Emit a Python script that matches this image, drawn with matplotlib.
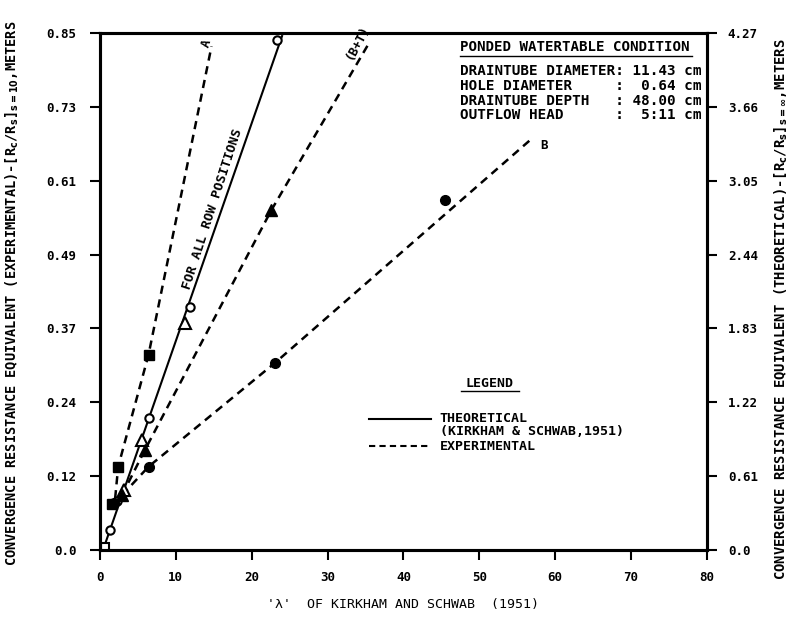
import numpy as np
import matplotlib
matplotlib.use("Agg")
import matplotlib.pyplot as plt

plt.rcParams['font.family'] = ['DejaVu Sans Mono']
plt.rcParams['font.weight'] = 'bold'
plt.rcParams['mathtext.default'] = 'bf'

# data (x = lambda, y = resistance equivalent, m)
sq_fill_x = [1.6, 2.4, 6.4]
sq_fill_y = [0.075, 0.137, 0.321]
sq_open_x = [0.66]
sq_open_y = [0.005]
circ_open_x = [1.3, 2.2, 6.4, 11.9, 23.3]
circ_open_y = [0.033, 0.08, 0.217, 0.40, 0.839]
circ_fill_x = [1.8, 6.4, 23.1, 45.5]
circ_fill_y = [0.078, 0.137, 0.308, 0.575]
tri_open_x = [3.2, 5.6, 11.2]
tri_open_y = [0.098, 0.181, 0.373]
tri_fill_x = [2.9, 5.9, 22.6]
tri_fill_y = [0.09, 0.164, 0.559]

# line vertices
line_a_x = [2.0, 2.4, 6.4, 14.7]
line_a_y = [0.085, 0.137, 0.321, 0.828]
line_bt_x = [2.9, 5.9, 22.6, 35.3]
line_bt_y = [0.09, 0.164, 0.559, 0.83]
line_b_x = [2.9, 6.4, 23.1, 56.7]
line_b_y = [0.09, 0.137, 0.308, 0.674]
theory_x = [0.4, 24.0]
theory_y = [0.0, 0.845]

left_ticks = ['0.0', '0.12', '0.24', '0.37', '0.49', '0.61', '0.73', '0.85']
right_ticks = ['0.0', '0.61', '1.22', '1.83', '2.44', '3.05', '3.66', '4.27']
x_ticks = [0, 10, 20, 30, 40, 50, 60, 70, 80]

fig = plt.figure(figsize=(7.89, 6.18), dpi=100)
ax = fig.add_axes([0.1267, 0.11, 0.7693, 0.8366])

dash = (0, (3.3, 2.3))
ax.plot(line_a_x, line_a_y, color='black', lw=1.8, linestyle=dash)
ax.plot(line_bt_x, line_bt_y, color='black', lw=1.8, linestyle=dash)
ax.plot(line_b_x, line_b_y, color='black', lw=1.8, linestyle=dash)
ax.plot(theory_x, theory_y, color='black', lw=1.5)

ax.plot(sq_fill_x, sq_fill_y, 's', color='black', ms=6.5)
ax.plot(sq_open_x, sq_open_y, 's', mfc='white', mec='black', mew=1.5, ms=6)
ax.plot(circ_open_x, circ_open_y, 'o', mfc='white', mec='black', mew=1.5, ms=6)
ax.plot(circ_fill_x, circ_fill_y, 'o', color='black', ms=7)
ax.plot(tri_open_x, tri_open_y, '^', mfc='white', mec='black', mew=1.5, ms=8)
ax.plot(tri_fill_x, tri_fill_y, '^', color='black', ms=9)

ax.set_xlim(0, 80)
ax.set_ylim(0, 0.85)
ax.set_xticks(x_ticks)
ax.set_xticklabels([str(v) for v in x_ticks], fontsize=9)
ax.set_yticks(np.linspace(0, 0.85, 8))
ax.set_yticklabels(left_ticks, fontsize=9)
ax.tick_params(direction='out', length=7, width=1.5, pad=10)
ax.tick_params(axis='x', pad=8)
for s in ax.spines.values():
    s.set_linewidth(2.2)

ax2 = ax.twinx()
ax2.set_ylim(0, 4.27)
ax2.set_yticks(np.linspace(0, 4.27, 8))
ax2.set_yticklabels(right_ticks, fontsize=9)
ax2.tick_params(direction='out', length=7, width=1.5, pad=8)
for s in ax2.spines.values():
    s.set_linewidth(2.2)

ax.set_xlabel("'\u03bb'  OF KIRKHAM AND SCHWAB  (1951)", fontsize=9.5, labelpad=10)
fig.text(0.016, 0.525,
         r'CONVERGENCE RESISTANCE EQUIVALENT (EXPERIMENTAL)-[R$_c$/R$_s$]$_{s=10}$,METERS',
         rotation=90, ha='center', va='center', fontsize=9.8)
fig.text(0.99, 0.50,
         r'CONVERGENCE RESISTANCE EQUIVALENT (THEORETICAL)-[R$_c$/R$_s$]$_{s=\infty}$,METERS',
         rotation=90, ha='center', va='center', fontsize=10)

# curve labels
ax.text(14.0, 0.833, 'A', rotation=72, fontsize=9, ha='center', va='center')
ax.text(34.0, 0.835, '(B+T)', rotation=62, fontsize=9, ha='center', va='center')
ax.text(58.5, 0.665, 'B', fontsize=9, ha='center', va='center')
ax.text(14.8, 0.56, 'FOR ALL ROW POSITIONS', rotation=72, fontsize=9.5,
        ha='center', va='center')

# condition box
ax.text(47.5, 0.827, 'PONDED WATERTABLE CONDITION', fontsize=10.2, va='center')
ax.plot([47.5, 78.0], [0.812, 0.812], color='black', lw=1)
cond = ['DRAINTUBE DIAMETER: 11.43 cm',
        'HOLE DIAMETER     :  0.64 cm',
        'DRAINTUBE DEPTH   : 48.00 cm',
        'OUTFLOW HEAD      :  5:11 cm']
for i, t in enumerate(cond):
    ax.text(47.5, 0.788 - i * 0.0245, t, fontsize=10.3, va='center')

# legend
ax.text(51.4, 0.274, 'LEGEND', fontsize=9.5, ha='center', va='center')
ax.plot([47.6, 55.2], [0.262, 0.262], color='black', lw=1)
ax.plot([35.5, 43.6], [0.215, 0.215], color='black', lw=1.5)
ax.text(44.8, 0.216, 'THEORETICAL', fontsize=9.5, va='center')
ax.text(44.8, 0.195, '(KIRKHAM & SCHWAB,1951)', fontsize=9.5, va='center')
ax.plot([35.5, 43.6], [0.171, 0.171], color='black', lw=1.5, linestyle=(0, (3, 2)))
ax.text(44.8, 0.171, 'EXPERIMENTAL', fontsize=9.5, va='center')

plt.savefig('out.png', dpi=100)
